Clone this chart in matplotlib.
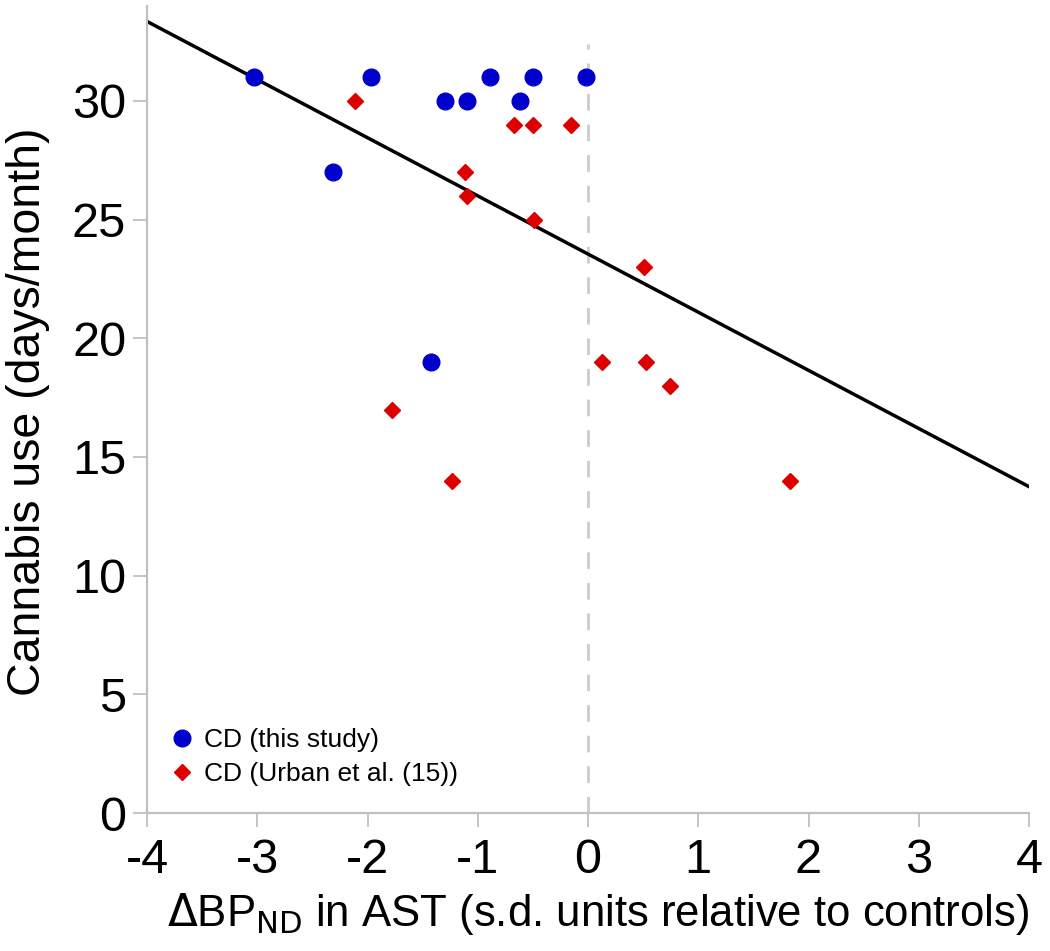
import matplotlib.pyplot as plt

plt.rcParams['font.family'] = ['Liberation Sans', 'DejaVu Sans']

# CD (this study)
this_x = [-3.03, -2.31, -1.97, -1.30, -1.10, -0.89, -0.62, -0.50, -0.02, -1.42]
this_y = [31, 27, 31, 30, 30, 31, 30, 31, 31, 19]

# CD (Urban et al. (15))
urban_x = [-2.11, -0.67, -0.50, -0.15, -1.12, -1.10, -0.49, 0.51,
           0.13, 0.53, 0.74, -1.78, -1.23, 1.83]
urban_y = [30, 29, 29, 29, 27, 26, 25, 23, 19, 19, 18, 17, 14, 14]

# regression line end points
fit_x = [-4, 4]
fit_y = [33.35, 13.75]

x_ticks = [-4, -3, -2, -1, 0, 1, 2, 3, 4]
y_ticks = [0, 5, 10, 15, 20, 25, 30]

fig = plt.figure(figsize=(10.5, 9.51), dpi=100)
ax = fig.add_axes([0.14, 0.1451, 0.84, 0.8486])

ax.vlines(0, 0, 32.4, colors='#cccccc', linestyles=(0, (6, 5)), linewidth=2)
ax.plot(fit_x, fit_y, color='black', linewidth=2.5, zorder=2)
ax.plot(this_x, this_y, 'o', color='#0000cc', markersize=12,
        label='CD (this study)', zorder=3)
ax.plot(urban_x, urban_y, 'D', color='#dd0000', markersize=8.5,
        label='CD (Urban et al. (15))', zorder=3)

ax.set_xlim(-4, 4)
ax.set_ylim(0, 34)
ax.set_xticks(x_ticks)
ax.set_xticklabels([str(t) for t in x_ticks])
ax.set_yticks(y_ticks)

for side in ['top', 'right']:
    ax.spines[side].set_visible(False)
for side in ['left', 'bottom']:
    ax.spines[side].set_color('#c0c0c0')
    ax.spines[side].set_linewidth(1.6)
ax.tick_params(axis='both', colors='#c0c0c0', length=10, width=1.3,
               labelcolor='black', labelsize=35)
ax.tick_params(axis='x', pad=8)
ax.tick_params(axis='y', pad=5)

ax.set_xlabel(r'$\Delta$BP$_{\mathrm{ND}}$ in AST (s.d. units relative to controls)',
              fontsize=31.5)
ax.set_ylabel('Cannabis use (days/month)', fontsize=33.5)
ax.xaxis.set_label_coords(0.511, -0.097)
ax.yaxis.set_label_coords(-0.11, 0.497)

ax.legend(loc='lower left', frameon=False, fontsize=19, handletextpad=0.33,
          handlelength=1.0, labelspacing=0.4, borderpad=0, borderaxespad=0,
          bbox_to_anchor=(0.025, 0.033))

fig.savefig('out.png', dpi=100)
